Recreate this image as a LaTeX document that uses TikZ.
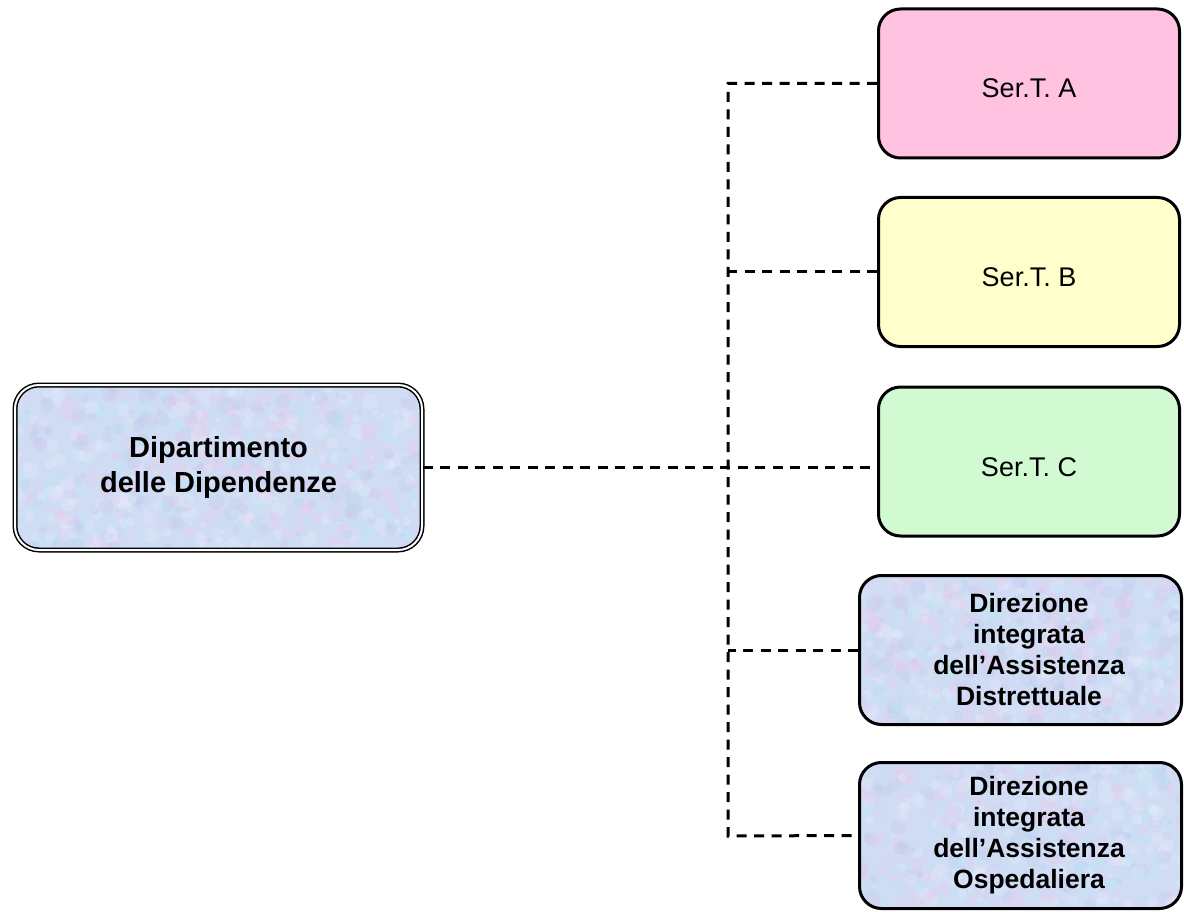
\documentclass[tikz,border=0pt]{standalone}
\usepackage{fontspec}
\setmainfont{Liberation Sans}
\usetikzlibrary{calc}
\definecolor{pinkA}{HTML}{FFC3E1}
\definecolor{yellowB}{HTML}{FFFFCC}
\definecolor{greenC}{HTML}{D2FAD2}
\definecolor{texbase}{HTML}{D0DCF4}
\definecolor{tex0}{HTML}{E8CCEE}
\definecolor{tex1}{HTML}{BFE6F6}
\definecolor{tex2}{HTML}{C4CCEE}
\definecolor{tex3}{HTML}{E6ECFA}
\tikzset{
  texture/.style={fill=texbase, path picture={
      \foreach \i in {1,...,900}{
        \pgfmathsetmacro\rx{rnd*420}
        \pgfmathsetmacro\ry{rnd*180}
        \pgfmathsetmacro\rr{2+rnd*6}
        \pgfmathtruncatemacro\cc{mod(int(4*rnd),4)}
        \fill[tex\cc, opacity=0.35] ($(path picture bounding box.north west)+(\rx,\ry)$) circle (\rr);
      }}},
  mainbox/.style={draw, line width=1.5pt, double=white, double distance=2pt,
    rounded corners=24pt, minimum width=407pt, minimum height=165pt, inner sep=0pt,
    texture, align=center, font=\bfseries\fontsize{29}{35}\selectfont},
  serbox/.style={draw, line width=3pt, rounded corners=22pt, minimum width=301pt,
    minimum height=149pt, inner sep=0pt, font=\fontsize{27}{31}\selectfont,
    text height=29pt, text depth=0pt},
  dirbox/.style={draw, line width=3pt, rounded corners=22pt, minimum width=322pt,
    minimum height=149pt, inner sep=0pt, texture},
  dirtext/.style={align=center, inner sep=0pt, font=\bfseries\fontsize{26.5}{31}\selectfont},
  conn/.style={line width=3pt, dash pattern=on 10pt off 7.5pt}
}
\pgfmathsetseed{7}
\begin{document}
\begin{tikzpicture}[x=1pt,y=-1pt]
\useasboundingbox (0,0) rectangle (1184,912);
\coordinate (tb) at (728,836);
\node[mainbox] (L) at (218.5,467.5) {Dipartimento\\delle Dipendenze};
\node[serbox, fill=pinkA] (A) at (1029,83.5) {Ser.T. A};
\node[serbox, fill=yellowB] (B) at (1029,272) {Ser.T. B};
\node[serbox, fill=greenC] (C) at (1029,461.5) {Ser.T. C};
\node[dirbox] (D1) at (1020.5,650) {};
\node[dirtext] (D1t) at (1029,650) {Direzione\\integrata\\dell’Assistenza\\Distrettuale};
\node[dirbox, minimum height=146pt] (D2) at (1020.5,835.5) {};
\node[dirtext] (D2t) at (1029,835.5) {Direzione\\integrata\\dell’Assistenza\\Ospedaliera};
\draw[conn] (A.west) -| (tb) -- (D2.west);
\draw[conn] (L.east) -- (L.east -| C.west);
\draw[conn] (B.west) -- (B.west -| tb);
\draw[conn] (D1.west) -- (D1.west -| tb);
\end{tikzpicture}
\end{document}
